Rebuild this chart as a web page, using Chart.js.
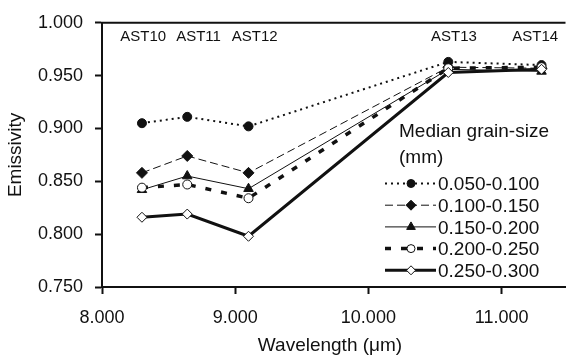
<!DOCTYPE html>
<html>
<head>
<meta charset="utf-8">
<script src="https://cdn.jsdelivr.net/npm/chart.js@4.4.0/dist/chart.umd.min.js"></script>
<style>
  html, body { margin: 0; padding: 0; background: #fff; }
  #wrap { width: 572px; height: 358px; position: relative; }
</style>
</head>
<body>
<div id="wrap"><canvas id="myChart"></canvas></div>
<script>
const wavelengths = [8.30, 8.64, 9.10, 10.60, 11.30];
const sampleNames = ['AST10', 'AST11', 'AST12', 'AST13', 'AST14'];
// where each sample name sits along the wavelength axis (text centre)
const sampleLabelAt = [8.31, 8.725, 9.147, 10.642, 11.253];
const grainSizes = ['0.050-0.100', '0.100-0.150', '0.150-0.200', '0.200-0.250', '0.250-0.300'];

const em_050_100 = [0.905, 0.911, 0.902, 0.963, 0.960];
const em_100_150 = [0.858, 0.874, 0.858, 0.958, 0.957];
const em_150_200 = [0.842, 0.855, 0.843, 0.956, 0.954];
const em_200_250 = [0.844, 0.847, 0.834, 0.957, 0.958];
const em_250_300 = [0.816, 0.819, 0.798, 0.953, 0.956];

const xTicks = [8, 9, 10, 11];
const yTicks = [0.75, 0.80, 0.85, 0.90, 0.95, 1.00];

const FONT = "'Liberation Sans', Arial, sans-serif";
const INK = '#111';

const ctx = document.getElementById('myChart');

// line / marker look for each grain-size series
const styles = [
    { dash: [2, 4], width: 2, point: 'circle', radius: 4.5, fill: INK },
    { dash: [8, 4], width: 1, point: 'rectRot', radius: 5.5, fill: INK },
    { dash: [], width: 1, point: 'triangle', radius: 5.5, fill: INK },
    { dash: [6, 10], width: 3.5, point: 'circle', radius: 4.5, fill: '#fff' },
    { dash: [], width: 3, point: 'rectRot', radius: 5, fill: '#fff' }
];

const seriesValues = [em_050_100, em_100_150, em_150_200, em_200_250, em_250_300];

const datasets = seriesValues.map((vals, i) => ({
    label: grainSizes[i],
    data: vals.map((v, j) => ({ x: wavelengths[j], y: v })),
    borderColor: INK,
    borderWidth: styles[i].width,
    borderDash: styles[i].dash,
    pointStyle: styles[i].point,
    pointRadius: styles[i].radius,
    pointBackgroundColor: styles[i].fill,
    pointBorderColor: INK,
    pointBorderWidth: 1,
    tension: 0,
    fill: false,
    order: 4 - i
}));

const textPlugin = {
    id: 'textPlugin',
    afterDraw(chart) {
        const c = chart.ctx;
        const area = chart.chartArea;
        const xs = chart.scales.x;

        // top border of the plot area
        c.save();
        c.strokeStyle = INK;
        c.lineWidth = 2;
        c.beginPath();
        c.moveTo(area.left - 1, area.top);
        c.lineTo(area.right, area.top);
        c.stroke();

        c.fillStyle = INK;

        // sample names above the points
        c.font = `15px ${FONT}`;
        c.textAlign = 'center';
        c.textBaseline = 'alphabetic';
        sampleNames.forEach((name, i) => {
            c.fillText(name, xs.getPixelForValue(sampleLabelAt[i]), 41);
        });

        // axis titles
        c.font = `19px ${FONT}`;
        c.fillText('Wavelength (\u03bcm)', 330, 351);
        c.save();
        c.translate(21, (area.top + area.bottom) / 2);
        c.rotate(-Math.PI / 2);
        c.fillText('Emissivity', 0, 0);
        c.restore();

        // legend
        c.textAlign = 'left';
        c.fillText('Median grain-size', 399, 137);
        c.fillText('(mm)', 399, 163);
        styles.forEach((s, i) => {
            const base = 190.2 + i * 21.7;
            const ly = base - 6.7;
            c.save();
            c.strokeStyle = INK;
            c.lineWidth = s.width;
            c.setLineDash(s.dash);
            c.beginPath();
            c.moveTo(385, ly);
            c.lineTo(436, ly);
            c.stroke();
            c.restore();
            c.save();
            c.fillStyle = s.fill;
            c.strokeStyle = INK;
            c.lineWidth = 1;
            Chart.helpers.drawPoint(c, { pointStyle: s.point, radius: s.radius - 0.5, borderWidth: 1 }, 411, ly);
            c.restore();
            c.fillStyle = INK;
            c.fillText(grainSizes[i], 438, base);
        });
        c.restore();
    }
};

new Chart(ctx, {
    type: 'line',
    data: { datasets: datasets },
    options: {
        responsive: true,
        maintainAspectRatio: false,
        animation: false,
        devicePixelRatio: 1,
        layout: { padding: { top: 14, left: 0, right: 0, bottom: 0 } },
        plugins: {
            legend: { display: false },
            tooltip: { enabled: false }
        },
        scales: {
            x: {
                type: 'linear',
                min: 8,
                max: 11.48,
                afterBuildTicks: (scale) => { scale.ticks = xTicks.map(v => ({ value: v })); },
                afterFit: (scale) => { scale.height = 71; },
                grid: { drawOnChartArea: false, drawTicks: true, tickLength: 7, tickColor: INK, tickWidth: 2 },
                border: { color: INK, width: 2 },
                ticks: {
                    padding: 13,
                    color: INK,
                    font: { family: FONT, size: 18 },
                    maxRotation: 0,
                    callback: (v) => Number(v).toFixed(3)
                }
            },
            y: {
                min: 0.75,
                max: 1.0,
                afterBuildTicks: (scale) => { scale.ticks = yTicks.map(v => ({ value: v })); },
                afterFit: (scale) => { scale.width = 102; },
                grid: { drawOnChartArea: false, drawTicks: true, tickLength: 7, tickColor: INK, tickWidth: 2 },
                border: { color: INK, width: 2 },
                ticks: {
                    padding: 12,
                    color: INK,
                    font: { family: FONT, size: 18 },
                    callback: (v) => Number(v).toFixed(3)
                }
            }
        }
    },
    plugins: [textPlugin]
});
</script>
</body>
</html>
